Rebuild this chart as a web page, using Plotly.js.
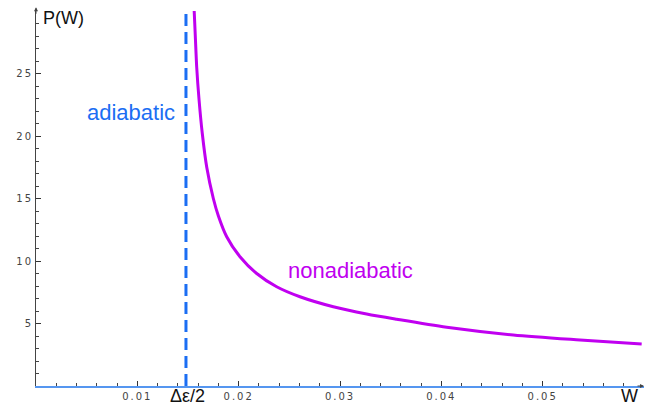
<!DOCTYPE html>
<html>
<head>
<meta charset="utf-8">
<script src="https://cdn.plot.ly/plotly-3.0.1.min.js"></script>
<style>
  html, body { margin: 0; padding: 0; background: #fff; }
  .xtick text, .ytick text { letter-spacing: 2px; }
</style>
</head>
<body>
<div id="chart" style="width:657px;height:406px;"></div>
<script>
// Nonadiabatic curve P(W)
const curveW = [0.01560, 0.01572, 0.01586, 0.01609, 0.01641, 0.01685, 0.01750, 0.01800, 0.01882, 0.02013, 0.02178, 0.02375, 0.02605, 0.02934, 0.03263, 0.03560, 0.04053, 0.04710, 0.05369, 0.05977];
const curveP = [30.2, 28.0, 25.5, 22.9, 20.2, 17.5, 15.0, 13.6, 11.94, 10.34, 9.0, 7.94, 7.14, 6.34, 5.76, 5.34, 4.70, 4.08, 3.68, 3.36];

// Adiabatic threshold W = Δε/2
const thresholdW = [0.0148, 0.0148];
const thresholdP = [0, 30];

// Axis ticks (major with labels, minor without)
const xTickVals = [0.01, 0.02, 0.03, 0.04, 0.05];
const xTickText = ['0.01', '0.02', '0.03', '0.04', '0.05'];
const xMinorVals = [0.002, 0.004, 0.006, 0.008, 0.012, 0.014, 0.016, 0.018, 0.022, 0.024, 0.026, 0.028,
                    0.032, 0.034, 0.036, 0.038, 0.042, 0.044, 0.046, 0.048, 0.052, 0.054, 0.056, 0.058];
const yTickVals = [5, 10, 15, 20, 25];
const yTickText = ['5', '10', '15', '20', '25'];
const yMinorVals = [1, 2, 3, 4, 6, 7, 8, 9, 11, 12, 13, 14, 16, 17, 18, 19, 21, 22, 23, 24, 26, 27, 28, 29];

const blue = '#1b6ef3';
const magenta = '#c000f0';

const traces = [
  {
    x: thresholdW, y: thresholdP, type: 'scatter', mode: 'lines',
    line: {color: blue, width: 3, dash: '12px,6px'},
    hoverinfo: 'skip', showlegend: false
  },
  {
    x: curveW, y: curveP, type: 'scatter', mode: 'lines',
    line: {color: magenta, width: 3, shape: 'spline', smoothing: 0.8},
    hoverinfo: 'skip', showlegend: false
  },
  {
    // empty trace that only carries the minor-tick overlay axes
    x: [], y: [], type: 'scatter', mode: 'lines', xaxis: 'x2', yaxis: 'y2',
    hoverinfo: 'skip', showlegend: false
  }
];

const tickFont = {family: 'DejaVu Sans', size: 10, color: '#444'};
const labelFont = {family: 'Liberation Sans, Arial, sans-serif', size: 18, color: '#111'};

const layout = {
  width: 657, height: 406,
  margin: {l: 36, r: 13, t: 11, b: 20, pad: 0},
  paper_bgcolor: '#fff', plot_bgcolor: '#fff',
  showlegend: false,
  xaxis: {
    range: [0, 0.06], showgrid: false, zeroline: false,
    showline: true, linecolor: '#5596f0', linewidth: 2,
    tickmode: 'array', tickvals: xTickVals, ticktext: xTickText,
    ticks: 'inside', ticklen: 5, tickcolor: '#333', tickwidth: 1,
    tickfont: tickFont
  },
  yaxis: {
    range: [0, 30], showgrid: false, zeroline: false,
    showline: true, linecolor: '#444', linewidth: 1,
    tickmode: 'array', tickvals: yTickVals, ticktext: yTickText,
    ticks: 'inside', ticklen: 5, tickcolor: '#333', tickwidth: 1,
    tickfont: tickFont
  },
  xaxis2: {
    overlaying: 'x', side: 'bottom', anchor: 'y2', range: [0, 0.06],
    showgrid: false, zeroline: false, showline: false, showticklabels: false,
    tickmode: 'array', tickvals: xMinorVals,
    ticks: 'inside', ticklen: 3, tickcolor: '#444', tickwidth: 1
  },
  yaxis2: {
    overlaying: 'y', side: 'left', anchor: 'x2', range: [0, 30],
    showgrid: false, zeroline: false, showline: false, showticklabels: false,
    tickmode: 'array', tickvals: yMinorVals,
    ticks: 'inside', ticklen: 3, tickcolor: '#444', tickwidth: 1
  },
  annotations: [
    {x: 0.01392, y: 21.9, xref: 'x', yref: 'y', text: 'adiabatic', showarrow: false,
     xanchor: 'right', yanchor: 'middle', font: {family: 'Liberation Sans, Arial, sans-serif', size: 22, color: blue}},
    {x: 0.031, y: 9.28, xref: 'x', yref: 'y', text: 'nonadiabatic', showarrow: false,
     xanchor: 'center', yanchor: 'middle', font: {family: 'Liberation Sans, Arial, sans-serif', size: 22, color: magenta}},
    {x: 0.01495, y: -0.026, xref: 'x', yref: 'paper', text: 'Δε/2', showarrow: false,
     xanchor: 'center', yanchor: 'middle', font: labelFont},
    {x: 0.0586, y: -0.026, xref: 'x', yref: 'paper', text: 'W', showarrow: false,
     xanchor: 'center', yanchor: 'middle', font: labelFont},
    {x: 0.00276, y: 0.981, xref: 'x', yref: 'paper', text: 'P(W)', showarrow: false,
     xanchor: 'center', yanchor: 'middle', font: labelFont},
    {x: 0, y: 1.01, xref: 'paper', yref: 'paper', text: '', showarrow: true, ax: 0, ay: 8,
     arrowhead: 2, arrowsize: 0.8, arrowwidth: 1, arrowcolor: '#444', standoff: 0},
    {x: 1.0, y: 0, xref: 'paper', yref: 'paper', text: '', showarrow: true, ax: -8, ay: 0,
     arrowhead: 2, arrowsize: 0.8, arrowwidth: 1, arrowcolor: '#444', standoff: 0}
  ]
};

Plotly.newPlot('chart', traces, layout, {displayModeBar: false, staticPlot: true});
</script>
</body>
</html>
